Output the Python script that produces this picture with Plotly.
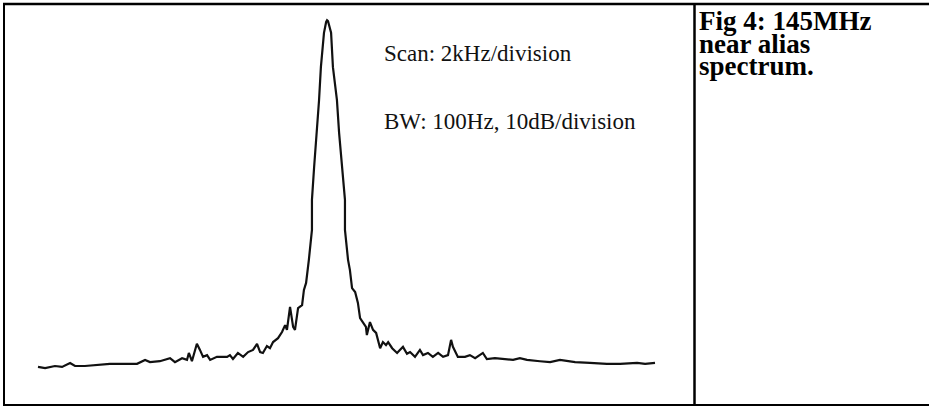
import plotly.graph_objects as go

# Frequency (kHz across the 10-division scan, 2 kHz/div) and level (dB, 10 dB/div)
freq_khz = [0.00, 0.23, 0.55, 0.78, 1.04, 1.20, 1.52, 1.91, 2.33, 2.82, 3.21, 3.47, 3.63,
            3.95, 4.28, 4.44, 4.67, 4.83, 4.89, 4.99, 5.15, 5.25, 5.35, 5.48, 5.58, 5.80,
            6.13, 6.22, 6.32, 6.48, 6.65, 6.81, 6.97, 7.10, 7.20, 7.29, 7.42, 7.52, 7.62,
            7.78, 7.91, 8.01, 8.07, 8.17, 8.27, 8.33, 8.43, 8.56, 8.62, 8.69, 8.75, 8.78,
            8.88, 8.88, 8.95, 9.04, 9.11, 9.17, 9.27, 9.34, 9.37, 9.40, 9.50, 9.56, 9.69,
            9.76, 9.85, 9.95, 9.95, 10.05, 10.11, 10.18, 10.28, 10.37, 10.44, 10.53, 10.63,
            10.66, 10.76, 10.86, 10.96, 11.09, 11.18, 11.28, 11.35, 11.48, 11.64, 11.73,
            11.83, 11.96, 12.06, 12.22, 12.38, 12.48, 12.64, 12.80, 12.97, 13.13, 13.29,
            13.39, 13.45, 13.61, 13.84, 14.00, 14.17, 14.42, 14.55, 14.81, 15.14, 15.40,
            15.62, 15.85, 16.27, 16.60, 16.92, 17.41, 17.89, 18.22, 18.44, 18.87, 19.19,
            19.42, 19.68, 20.00]
level_db = [-80.2, -80.5, -80.0, -80.2, -79.3, -80.0, -80.0, -79.8, -79.5, -79.5, -79.5, -78.6, -79.1,
            -78.9, -78.2, -79.1, -78.2, -78.6, -77.0, -78.9, -74.9, -76.3, -77.9, -77.5, -78.6, -77.9,
            -77.9, -77.5, -78.4, -77.0, -77.9, -76.8, -76.3, -74.9, -76.8, -77.0, -75.4, -75.9, -74.5,
            -73.6, -72.2, -70.6, -71.7, -66.4, -71.0, -71.7, -66.7, -66.0, -62.5, -60.9, -57.9, -55.6,
            -48.7, -41.8, -34.3, -26.4, -18.9, -11.3, -3.4, -0.9, -0.5, -0.7, -3.4, -11.3, -18.9,
            -26.4, -34.3, -41.8, -48.7, -55.6, -57.9, -62.1, -63.0, -65.5, -69.0, -70.1, -71.0,
            -72.9, -69.9, -71.7, -72.4, -75.9, -74.5, -75.2, -74.5, -75.9, -77.0, -76.3,
            -75.6, -77.2, -76.8, -77.9, -76.3, -77.5, -77.0, -77.9, -77.0, -77.9, -77.5,
            -74.0, -75.6, -77.9, -77.9, -77.5, -78.2, -77.0, -78.4, -78.2, -78.4, -78.6,
            -78.2, -78.6, -78.9, -79.1, -78.6, -79.1, -79.3, -79.5, -79.5, -79.5, -79.3,
            -79.3, -79.5, -79.3]

note_lines = ["Scan: 2kHz/division", "BW: 100Hz, 10dB/division"]
caption_lines = ["Fig 4: 145MHz", "near alias", "spectrum."]

W, H = 929, 407


def px(x):
    return x / W


def py(y):
    return 1 - y / H


# axis scaling: 20 kHz spans pixels 38..655, 80 dB spans pixels 366..18
kx = 20 / (655 - 38)
ky = 80 / (366 - 18)
x_range = [-38 * kx, (W - 38) * kx]
y_range = [-(H - 18) * ky, 18 * ky]

fig = go.Figure()
fig.add_trace(go.Scatter(x=freq_khz, y=level_db, mode="lines",
                         line=dict(color="#111111", width=2.2), hoverinfo="skip",
                         showlegend=False))

fig.update_layout(
    width=W, height=H,
    margin=dict(l=0, r=0, t=0, b=0),
    paper_bgcolor="white", plot_bgcolor="white",
    xaxis=dict(range=x_range, domain=[0, 1], visible=False, fixedrange=True),
    yaxis=dict(range=y_range, domain=[0, 1], visible=False, fixedrange=True),
)

shapes = [
    dict(type="line", xref="paper", yref="paper", x0=px(3), x1=1, y0=py(4), y1=py(4),
         line=dict(color="black", width=2.5)),
    dict(type="line", xref="paper", yref="paper", x0=px(3), x1=1, y0=py(405), y1=py(405),
         line=dict(color="black", width=2)),
    dict(type="line", xref="paper", yref="paper", x0=px(4), x1=px(4), y0=py(3), y1=py(406),
         line=dict(color="black", width=2)),
    dict(type="line", xref="paper", yref="paper", x0=px(694.5), x1=px(694.5), y0=py(3), y1=py(406),
         line=dict(color="black", width=2.5)),
]
fig.update_layout(shapes=shapes)

serif = "Liberation Serif, Times New Roman, serif"
for txt, yc in zip(note_lines, [54, 122]):
    fig.add_annotation(text=txt, xref="paper", yref="paper", x=px(382), y=py(yc),
                       xanchor="left", yanchor="middle", showarrow=False,
                       font=dict(family=serif, size=23, color="#111111"))

for txt, yc in zip(caption_lines, [21, 44, 66]):
    fig.add_annotation(text="<b>" + txt + "</b>", xref="paper", yref="paper", x=px(697), y=py(yc),
                       xanchor="left", yanchor="middle", showarrow=False,
                       font=dict(family=serif, size=27, color="black"))

fig.write_html("out.html", config={"displayModeBar": False},
               post_script="document.body.style.margin='0';")
